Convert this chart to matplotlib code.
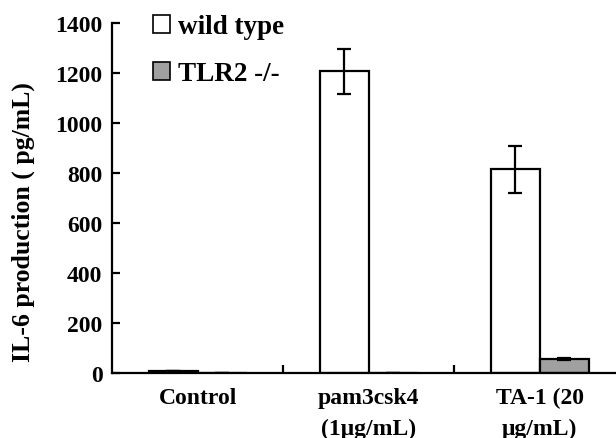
import matplotlib
matplotlib.use("Agg")
import matplotlib.pyplot as plt
from matplotlib.patches import Patch
import numpy as np

# IL-6 measurements (pg/mL)
categories = ["Control", "pam3csk4\n(1\u03bcg/mL)", "TA-1 (20\n\u03bcg/mL)"]
wt_mean = [8, 1208, 815]
wt_err = [0, 90, 95]
ko_mean = [0, 0, 56]
ko_err = [0, 0, 3]
series_names = ["wild type", "TLR2 -/-"]

plt.rcParams['font.family'] = ['Liberation Serif', 'DejaVu Serif']
plt.rcParams['font.weight'] = 'bold'

fig = plt.figure(figsize=(6.16, 4.39), dpi=100)
ax = fig.add_axes([0.182, 0.148, 0.833, 0.797])

x = np.arange(len(categories))
w = 0.287
err_kw = dict(ecolor='black', elinewidth=1.6, capsize=5, capthick=1.6)
ax.bar(x - w / 2, wt_mean, w, yerr=wt_err, color='white', edgecolor='black',
       linewidth=1.6, error_kw=err_kw)
ax.bar(x + w / 2, ko_mean, w, yerr=ko_err, color='#a0a0a0', edgecolor='black',
       linewidth=1.6, error_kw=err_kw)

ax.set_xlim(-0.5, 2.5)
ax.set_ylim(0, 1400)
ax.set_yticks(range(0, 1401, 200))
ax.tick_params(axis='y', direction='in', length=6, width=1.6, labelsize=17, pad=7)
ax.set_xticks(x)
ax.set_xticklabels(categories, fontsize=17, linespacing=1.6)
ax.tick_params(axis='x', which='major', length=0, pad=10)
ax.set_xticks([0.5, 1.5], minor=True)
ax.tick_params(axis='x', which='minor', direction='in', length=6, width=1.6)

for side in ['top', 'right']:
    ax.spines[side].set_visible(False)
for side in ['left', 'bottom']:
    ax.spines[side].set_linewidth(1.6)

ax.set_ylabel("IL-6 production ( pg/mL)", fontsize=18.5, fontweight='bold')
ax.yaxis.set_label_coords(-0.15, 0.434)

handles = [Patch(facecolor='white', edgecolor='black', linewidth=1.2),
           Patch(facecolor='#a0a0a0', edgecolor='black', linewidth=1.2)]
ax.legend(handles, series_names, loc='upper left', bbox_to_anchor=(0.032, 1.095),
          frameon=False, fontsize=19.5, handlelength=0.62, handleheight=0.62,
          handletextpad=0.3, labelspacing=0.82)

fig.savefig("out.png", dpi=100)
plt.close(fig)
